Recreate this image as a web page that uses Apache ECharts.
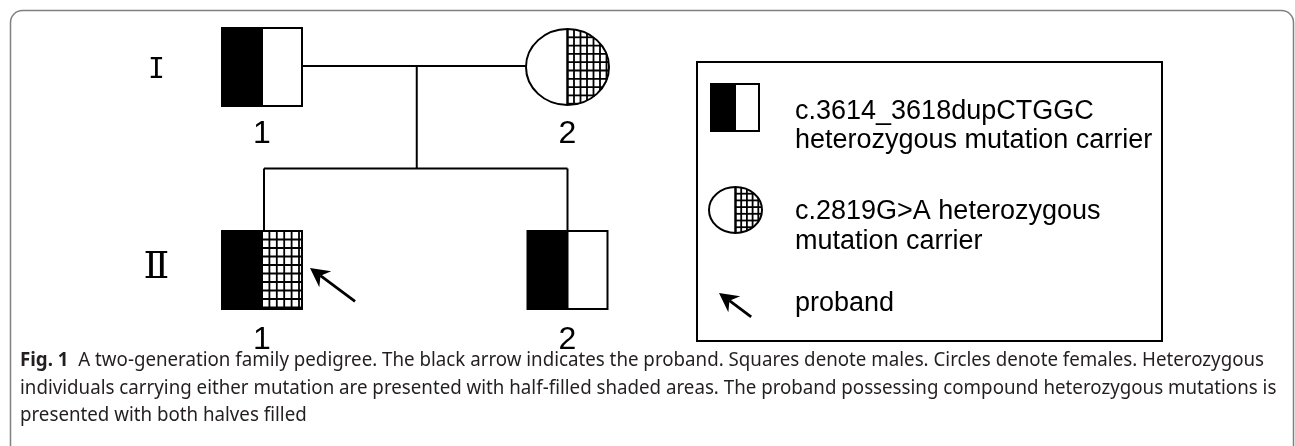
<!DOCTYPE html>
<html lang="en">
<head>
<meta charset="utf-8">
<title>Two-generation family pedigree</title>
<script src="https://cdn.jsdelivr.net/npm/echarts@6.0.0/dist/echarts.min.js"></script>
<style>
  html, body { margin: 0; padding: 0; background: #fff; }
  #main { width: 1295px; height: 446px; }
</style>
</head>
<body>
<div id="main"></div>
<script type="text/javascript">
  // pedigree: generation row, place in row, sex, what each half carries
  var generations = ['I', 'Ⅱ'];
  var personGen = [0, 0, 1, 1];
  var personPos = [0, 1, 0, 1];
  var personSex = ['male', 'female', 'male', 'male'];
  var leftHalf = ['dup', 'none', 'dup', 'dup'];            // c.3614_3618dupCTGGC -> black
  var rightHalf = ['none', 'missense', 'missense', 'none']; // c.2819G>A -> grid
  var personNo = ['1', '2', '1', '2'];
  var couple = [0, 1];
  var children = [2, 3];
  var proband = 2;

  var legendLabels = [
    ['c.3614_3618dupCTGGC', 'heterozygous mutation carrier'],
    ['c.2819G>A heterozygous', 'mutation carrier'],
    ['proband']
  ];
  var captionHead = 'Fig. 1';
  var captionLines = [
    'A two-generation family pedigree. The black arrow indicates the proband. Squares denote males. Circles denote females. Heterozygous',
    'individuals carrying either mutation are presented with half-filled shaded areas. The proband possessing compound heterozygous mutations is',
    'presented with both halves filled'
  ];

  // symbol sizes (pixels)
  var BIG = { w: 80, h: 78, rx: 41.5, ry: 38, sqPx: 7.4, sqPy: 8.5, ciPx: 6.5, ciPy: 8.3, hatchW: 1.8 };
  var SMALL = { w: 48, h: 47, rx: 26.5, ry: 23, sqPx: 6, sqPy: 6.5, ciPx: 5.7, ciPy: 6.7, hatchW: 1.8 };
  var numberDrop = [67.5, 70.5]; // label distance below symbol centre, per generation

  function seg(x1, y1, x2, y2, lw) {
    return { type: 'line', shape: { x1: x1, y1: y1, x2: x2, y2: y2 }, style: { stroke: '#000', lineWidth: lw } };
  }

  function hatchRect(x0, y0, w, h, px, py, lw) {
    var out = [];
    for (var x = x0 + px; x < x0 + w - 1; x += px) out.push(seg(x, y0, x, y0 + h, lw));
    for (var y = y0 + py; y < y0 + h - 1; y += py) out.push(seg(x0, y, x0 + w, y, lw));
    return out;
  }

  function hatchEllipseRight(cx, cy, rx, ry, px, py, lw) {
    var out = [], dx, dy;
    for (dx = px; dx < rx - 1; dx += px) {
      dy = ry * Math.sqrt(1 - dx * dx / (rx * rx));
      out.push(seg(cx + dx, cy - dy, cx + dx, cy + dy, lw));
    }
    for (dy = -ry + py; dy < ry - 1; dy += py) {
      dx = rx * Math.sqrt(1 - dy * dy / (ry * ry));
      out.push(seg(cx, cy + dy, cx + dx, cy + dy, lw));
    }
    return out;
  }

  function personShape(cx, cy, sex, left, right, s) {
    var kids = [];
    if (sex === 'male') {
      var x0 = cx - s.w / 2, y0 = cy - s.h / 2;
      kids.push({ type: 'rect', shape: { x: x0, y: y0, width: s.w, height: s.h }, style: { fill: '#fff' } });
      if (left === 'dup') kids.push({ type: 'rect', shape: { x: x0, y: y0, width: s.w / 2, height: s.h }, style: { fill: '#000' } });
      if (right === 'missense') kids = kids.concat(hatchRect(cx, y0, s.w / 2, s.h, s.sqPx, s.sqPy, s.hatchW));
      kids.push({ type: 'rect', shape: { x: x0, y: y0, width: s.w, height: s.h }, style: { fill: 'none', stroke: '#000', lineWidth: 2 } });
      kids.push(seg(cx, y0, cx, y0 + s.h, 2));
    } else {
      kids.push({ type: 'ellipse', shape: { cx: cx, cy: cy, rx: s.rx, ry: s.ry }, style: { fill: '#fff' } });
      if (right === 'missense') kids = kids.concat(hatchEllipseRight(cx, cy, s.rx, s.ry, s.ciPx, s.ciPy, s.hatchW));
      kids.push({ type: 'ellipse', shape: { cx: cx, cy: cy, rx: s.rx, ry: s.ry }, style: { fill: 'none', stroke: '#000', lineWidth: 2 } });
      kids.push(seg(cx, cy - s.ry, cx, cy + s.ry, 2.5));
    }
    return kids;
  }

  // arrow pointing up-left, tip at (tx, ty)
  function arrowShape(tx, ty, len) {
    var ang = 36.5 * Math.PI / 180;
    var ux = Math.cos(ang), uy = Math.sin(ang), nx = -uy, ny = ux;
    var headLen = 19, half = 10, notch = 13;
    return [
      seg(tx + ux * notch, ty + uy * notch, tx + ux * len, ty + uy * len, 2.8),
      { type: 'polygon', shape: { points: [
          [tx, ty],
          [tx + ux * headLen + nx * half, ty + uy * headLen + ny * half],
          [tx + ux * notch, ty + uy * notch],
          [tx + ux * headLen - nx * half, ty + uy * headLen - ny * half]
        ] }, style: { fill: '#000' } }
    ];
  }

  function renderPerson(params, api) {
    var i = api.value(2);
    var c = api.coord([api.value(0), api.value(1)]);
    var kids = personShape(c[0], c[1], personSex[i], leftHalf[i], rightHalf[i], BIG);
    kids.push({ type: 'text', x: c[0], y: c[1] + numberDrop[personGen[i]], style: {
      text: personNo[i], align: 'center', verticalAlign: 'middle',
      font: '32px "Liberation Sans", Arial, sans-serif', fill: '#000' } });
    if (i === proband) kids = kids.concat(arrowShape(c[0] + BIG.w / 2 + 8, c[1] - 2, 56));
    return { type: 'group', children: kids };
  }

  function where(k) { return [personPos[k], personGen[k]]; }

  function renderLines(params, api) {
    var f = api.coord(where(couple[0]));
    var m = api.coord(where(couple[1]));
    var drop = api.coord([(personPos[couple[0]] + personPos[couple[1]]) / 2,
                          (personGen[couple[0]] + personGen[children[0]]) / 2]);
    var kids = [seg(f[0] + BIG.w / 2, f[1] - 1, m[0] - BIG.rx, m[1] - 1, 2),
                seg(drop[0] + 2, f[1] - 1, drop[0] + 2, drop[1], 2)];
    var first = api.coord(where(children[0]));
    var last = api.coord(where(children[children.length - 1]));
    kids.push(seg(first[0] + 2, drop[1], last[0], drop[1], 2));
    children.forEach(function (k, j) {
      var c = api.coord(where(k));
      var x = j === 0 ? c[0] + 2 : c[0];
      kids.push(seg(x, drop[1], x, c[1] - BIG.h / 2, 2));
    });
    return { type: 'group', children: kids };
  }

  var personData = personGen.map(function (g, i) { return [personPos[i], g, i]; });

  // legend box content
  var legendX = 795;
  var legendGraphic = [
    { type: 'rect', shape: { x: 697, y: 62, width: 465, height: 279 }, style: { fill: 'none', stroke: '#000', lineWidth: 2 } },
    { type: 'group', children: personShape(735, 107.5, 'male', 'dup', 'none', SMALL) },
    { type: 'group', children: personShape(735.5, 210, 'female', 'none', 'missense', SMALL) },
    { type: 'group', children: arrowShape(719, 293, 40) }
  ];
  var legendRows = [[111.5, 140.5], [211.5, 241.5], [303.5]];
  legendLabels.forEach(function (lines, r) {
    lines.forEach(function (t, j) {
      legendGraphic.push({ type: 'text', x: legendX, y: legendRows[r][j], style: {
        text: t, verticalAlign: 'middle', fill: '#000',
        font: '27px "Liberation Sans", Arial, sans-serif' } });
    });
  });

  // caption, squeezed to the width of the original line
  var capFont = '19px "Noto Sans", sans-serif';
  var capBold = 'bold 19px "Noto Sans", sans-serif';
  var ctx = document.createElement('canvas').getContext('2d');
  ctx.font = capBold;
  var headW = ctx.measureText(captionHead).width;
  ctx.font = capFont;
  var line1W = headW + ctx.measureText('  ' + captionLines[0]).width;
  var squeeze = (1264 - 20) / line1W;
  var capRows = [361, 389, 416];
  var captionGraphic = captionLines.map(function (t, j) {
    return { type: 'text', x: 20, y: capRows[j], scaleX: squeeze, style: {
      text: j === 0 ? '{b|' + captionHead + '}  ' + t : t,
      font: capFont, fill: '#231f20', verticalAlign: 'middle',
      rich: { b: { font: capBold, fill: '#231f20' } } } };
  });

  var myChart = echarts.init(document.getElementById('main'));

  var option = {
    animation: false,
    grid: { left: 262, right: 727.5, top: 67, bottom: 176, outerBoundsMode: 'none' },
    xAxis: { type: 'value', min: 0, max: 1, show: false },
    yAxis: {
      type: 'value', min: 0, max: 1, interval: 1, inverse: true,
      axisLine: { show: false }, axisTick: { show: false }, splitLine: { show: false },
      axisLabel: {
        margin: 105.5, align: 'center',
        formatter: function (v) { return '{g' + v + '|' + generations[v] + '}'; },
        rich: {
          g0: { fontSize: 28, fontFamily: 'DejaVu Sans Mono', color: '#000', padding: [8, 0, 0, 0] },
          g1: { fontSize: 38, fontFamily: 'DejaVu Serif', color: '#000', padding: [0, 0, 4, 0] }
        }
      }
    },
    series: [
      { type: 'custom', name: 'lines', data: [[0.5, 0.5]], clip: false, silent: true, renderItem: renderLines },
      { type: 'custom', name: 'people', data: personData, encode: { x: 0, y: 1 }, clip: false, silent: true, renderItem: renderPerson }
    ],
    graphic: [
      { type: 'rect', shape: { x: 10.5, y: 10.5, width: 1283, height: 500, r: 12 }, style: { fill: 'none', stroke: '#808080', lineWidth: 1.5 } }
    ].concat(legendGraphic, captionGraphic)
  };

  myChart.setOption(option);
</script>
</body>
</html>
